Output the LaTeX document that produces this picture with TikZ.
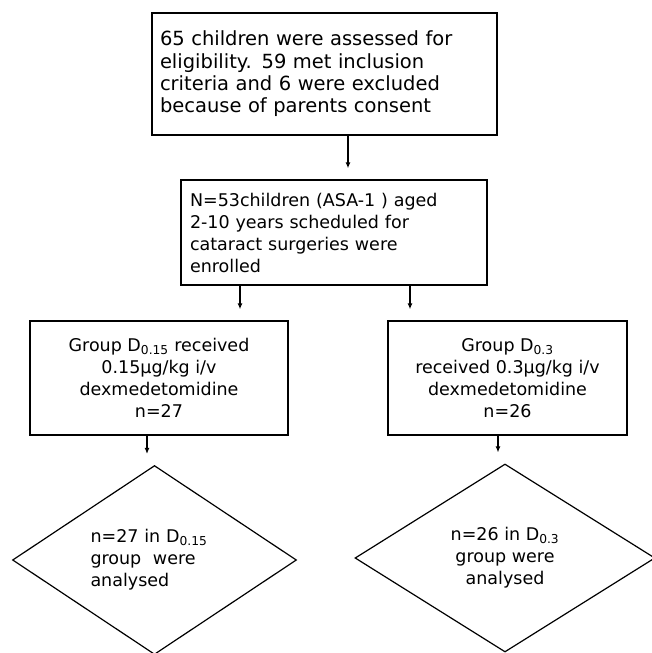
\documentclass[tikz,border=0pt]{standalone}
\usepackage{fontspec}
\setmainfont{DejaVu Sans}
\usetikzlibrary{positioning,arrows.meta,calc,shapes.geometric}
\tikzset{
    base/.style={font=\fontsize{17.5}{22}\selectfont, inner sep=0pt},
    bigtext/.style={font=\fontsize{19.5}{22.3}\selectfont},
    stepbox/.style={base, rectangle, draw, line width=1.4pt},
    result/.style={base, diamond, draw, line width=1.2pt},
    flow/.style={-{Latex[length=6pt,width=5pt]}, line width=1.1pt, shorten >=11pt}
}

\begin{document}
\begin{tikzpicture}[x=1pt,y=-1pt]
  \useasboundingbox (0,0) rectangle (651,653);
  \node[stepbox, bigtext, minimum width=345pt, minimum height=122pt, text width=329pt, align=left] (assess) at (324.5,74)
    {65 children were assessed for\\eligibility. 59 met inclusion\\criteria and 6 were excluded\\because of parents consent};
  \node[stepbox, minimum width=306pt, minimum height=105pt, text width=288pt, align=left] (enrol) at (334,232.5)
    {N=53children (ASA-1 ) aged\\2-10 years scheduled for\\cataract surgeries were\\enrolled};
  \node[stepbox, minimum width=258pt, minimum height=114pt, align=center] (grpA) at (159,378)
    {Group D\textsubscript{0.15} received\\0.15µg/kg i/v\\dexmedetomidine\\n=27};
  \node[stepbox, minimum width=239pt, minimum height=114pt, align=center] (grpB) at (507.5,378)
    {Group D\textsubscript{0.3}\\received 0.3µg/kg i/v\\dexmedetomidine\\n=26};
  \node[result, minimum width=284pt, minimum height=188pt, text width=128pt, align=left] (endA) at (154.5,560)
    {n=27 in D\textsubscript{0.15}\\group\ \ were\\analysed};
  \node[result, minimum width=300pt, minimum height=188pt, align=center] (endB) at (505,558)
    {n=26 in D\textsubscript{0.3}\\group were\\analysed};
  % arrows
  \draw[flow] (assess.south -| 348,0) -- (enrol.north -| 348,0);
  \draw[flow] (enrol.south -| 240,0) -- (grpA.north -| 240,0);
  \draw[flow] (enrol.south -| 410,0) -- (grpB.north -| 410,0);
  \draw[flow] (grpA.south -| 147,0) -- (endA.north -| 147,0);
  \draw[flow] (grpB.south -| 498,0) -- (endB.north -| 498,0);
\end{tikzpicture}
\end{document}
